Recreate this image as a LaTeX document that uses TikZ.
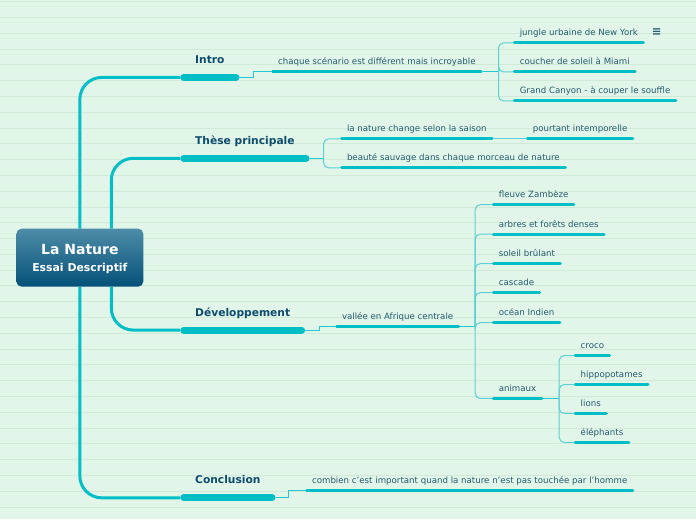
\documentclass[tikz,border=0pt]{standalone}
\usepackage{fontspec}
\setmainfont{DejaVu Sans}
\usetikzlibrary{positioning}
\definecolor{bgMint}{RGB}{225,246,232}
\definecolor{gridGreen}{RGB}{207,234,215}
\definecolor{barCyan}{RGB}{0,190,198}
\definecolor{linkCyan}{RGB}{92,208,212}
\definecolor{topicBlue}{RGB}{14,76,110}
\definecolor{leafInk}{RGB}{38,90,112}
\definecolor{rootTop}{RGB}{78,140,168}
\definecolor{rootBot}{RGB}{4,80,120}
\tikzset{
  rootbox/.style={rounded corners=5pt, minimum width=127pt, minimum height=58pt,
    top color=rootTop, bottom color=rootBot, text=white, align=center,
    text depth=0pt, font=\bfseries\fontsize{10.9}{17.5}\selectfont},
  topic/.style={anchor=south west, inner xsep=15pt, inner ysep=0pt, outer sep=0pt,
    text depth=14pt, text=topicBlue, font=\bfseries\fontsize{10.7}{13}\selectfont,
    append after command={(\tikzlastnode.south west) edge[topicbar] (\tikzlastnode.south east)}},
  topicbar/.style={draw=barCyan, line width=7pt, line cap=round,
    shorten <=3.5pt, shorten >=3.5pt},
  leaf/.style={anchor=south west, inner xsep=7pt, inner ysep=0pt, outer sep=0pt,
    text depth=7pt, text=leafInk, font=\fontsize{8.65}{10}\selectfont,
    append after command={(\tikzlastnode.south west) edge[leafbar] (\tikzlastnode.south east)}},
  leafbar/.style={draw=barCyan, line width=3pt, line cap=round,
    shorten <=1.5pt, shorten >=1.5pt},
  trunk/.style={draw=barCyan, line width=3pt, rounded corners=22pt},
  stepln/.style={draw=barCyan!85, line width=1pt},
  forkln/.style={draw=linkCyan, line width=1pt, rounded corners=5pt},
  gridln/.style={draw=gridGreen, line width=0.9pt},
}
\begin{document}
\begin{tikzpicture}[x=1pt, y=-1pt]
    % ruled paper
    \fill[bgMint] (0,0) rectangle (696,520);
    \foreach \k in {0,...,32} {
      \pgfmathsetmacro{\gy}{1.7+15.81*\k}
      \draw[gridln] (0,\gy) -- (696,\gy);
    }
    % central topic
    \node[rootbox] (root) at (79.5,258)
      {{\fontsize{14}{17.5}\selectfont La Nature}\\Essai Descriptif};
    % main branches
    \node[topic] (intro) at (180,77.5) {Intro};
    \node[topic] (these) at (180,158.5) {Thèse principale};
    \node[topic] (devel) at (180,330.5) {Développement};
    \node[topic] (concl) at (180,498.5) {Conclusion};
    \draw[trunk] (root.north) |- (intro.south west);
    \draw[trunk] ([xshift=31.5pt]root.north) |- (these.south west);
    \draw[trunk] ([xshift=31.5pt]root.south) |- (devel.south west);
    \draw[trunk] (root.south) |- (concl.south west);
    % intro
    \node[leaf] (scen) at (271,72) {chaque scénario est différent mais incroyable};
    \node[leaf] (newyork) at (513,43) {jungle urbaine de New York};
    \node[leaf] (miami) at (513,72) {coucher de soleil à Miami};
    \node[leaf] (canyon) at (513,101) {Grand Canyon - à couper le souffle};
    \node[text=leafInk, font=\bfseries\fontsize{11.5}{11.5}\selectfont] (nymenu) at (657,32.5) {≡};
    \draw[stepln] (intro.south east) -- ++(14,0) |- (scen.south west);
    \draw[stepln] (scen.south east) -- ++(16,0) coordinate (scenfork);
    \foreach \c in {newyork,miami,canyon}
      \draw[forkln] (scenfork) |- (\c.south west);
    % these principale
    \node[leaf] (saison) at (340,139) {la nature change selon la saison};
    \node[leaf] (intemp) at (526,139) {pourtant intemporelle};
    \node[leaf] (beaute) at (340,168) {beauté sauvage dans chaque morceau de nature};
    \draw[stepln] (these.south east) -- ++(14,0) coordinate (thesefork);
    \foreach \c in {saison,beaute}
      \draw[forkln] (thesefork) |- (\c.south west);
    \draw[forkln] (saison.south east) -- (intemp.south west);
    % developpement
    \node[leaf] (vallee) at (335,327) {vallée en Afrique centrale};
    \node[leaf] (zambeze) at (492,205) {fleuve Zambèze};
    \node[leaf] (arbres) at (492,234.5) {arbres et forêts denses};
    \node[leaf] (soleil) at (492,264) {soleil brûlant};
    \node[leaf] (cascade) at (492,293) {cascade};
    \node[leaf] (ocean) at (492,323) {océan Indien};
    \node[leaf] (animaux) at (492,399) {animaux};
    \draw[stepln] (devel.south east) -- ++(14,0) |- (vallee.south west);
    \draw[stepln] (vallee.south east) -- ++(15,0) coordinate (valfork);
    \foreach \c in {zambeze,arbres,soleil,cascade,ocean,animaux}
      \draw[forkln] (valfork) |- (\c.south west);
    % animaux
    \node[leaf] (croco) at (574,356) {croco};
    \node[leaf] (hippo) at (574,385) {hippopotames};
    \node[leaf] (lions) at (574,414) {lions};
    \node[leaf] (elephants) at (574,443) {éléphants};
    \draw[stepln] (animaux.south east) -- ++(16,0) coordinate (animfork);
    \foreach \c in {croco,hippo,lions,elephants}
      \draw[forkln] (animfork) |- (\c.south west);
    % conclusion
    \node[leaf] (combien) at (305,491.5) {combien c'est important quand la nature n'est pas touchée par l'homme};
    \draw[stepln] (concl.south east) -- ++(13,0) |- (combien.south west);
  \end{tikzpicture}
\end{document}
